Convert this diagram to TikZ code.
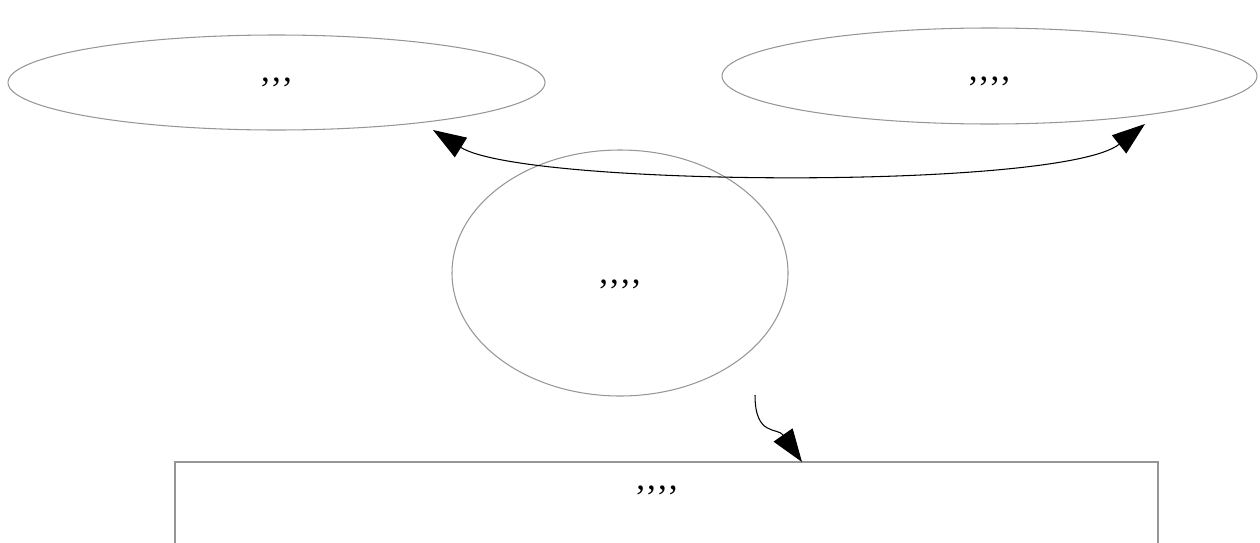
\documentclass[tikz,border=0pt]{standalone}
\usepackage{fontspec}
\setmainfont{Liberation Serif}
\newfontfamily\commafont[LetterSpace=6]{Liberation Serif}
\usetikzlibrary{shapes.geometric,arrows.meta}
\definecolor{rim}{RGB}{150,150,150}
\tikzset{
	bubble/.style={ellipse,draw=rim,line width=0.6pt,inner sep=0pt,outer sep=0pt,font=\commafont\fontsize{20}{24}\selectfont},
	panel/.style={rectangle,draw=rim,line width=0.6pt,inner sep=0pt,outer sep=0pt},
	bigtip/.tip={Triangle[length=0.66cm,width=0.46cm]},
	link/.style={draw=black,line width=0.6pt}
}
\begin{document}
\begin{tikzpicture}
		\useasboundingbox (0,0) rectangle (25.2,10.84);
		\coordinate (A) at (8.66,8.24);
		\coordinate (B) at (10.48,7.10);
		\coordinate (C) at (21.22,7.04);
		\coordinate (D) at (22.90,8.36);
		\coordinate (E) at (15.10,2.94);
		\coordinate (F) at (15.10,2.10);
		\coordinate (G) at (15.55,2.30);
		\coordinate (H) at (16.04,1.60);
		\node[bubble,minimum width=10.74cm,minimum height=1.90cm] (L1) at (5.53,9.19) {,{},{},};
		\node[bubble,minimum width=10.70cm,minimum height=1.92cm,text height=0.27cm] (R1) at (19.79,9.32) {,{},{},{},};
		\node[bubble,minimum width=6.72cm,minimum height=4.92cm,text height=0.53cm] (M1) at (12.40,5.38) {,{},{},{},};
		\node[panel,anchor=north,minimum width=19.66cm,minimum height=3cm] (P1) at (13.33,1.60) {};
		\node[font=\commafont\fontsize{20}{24}\selectfont,inner sep=0pt] (P2) at (13.14,1.04) {,{},{},{},};
		\draw[link,bigtip-bigtip] (A) .. controls (B) and (C) .. (D);
		\draw[link,-bigtip] (E) .. controls (F) and (G) .. (H);
	\end{tikzpicture}
\end{document}
